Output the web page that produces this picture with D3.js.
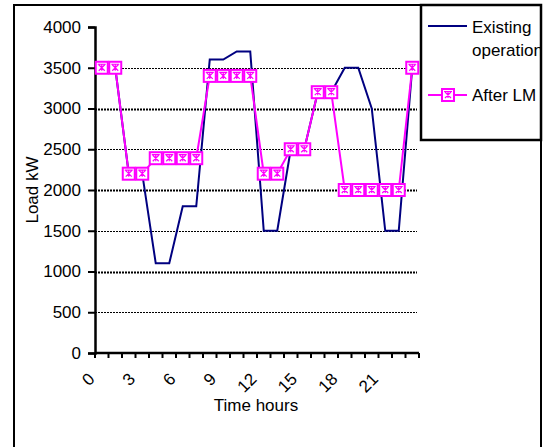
<!DOCTYPE html>
<html>
<head>
<meta charset="utf-8">
<script src="https://cdn.jsdelivr.net/npm/d3@7"></script>
<style>
  body { margin: 0; background: #fff; }
  text { font-family: "Liberation Sans", Arial, sans-serif; fill: #000; }
</style>
</head>
<body>
<script>
// chart size
var w = 543,
    h = 447,
    fs = 17;

// hours of the day (categories)
var hours = [0, 1, 2, 3, 4, 5, 6, 7, 8, 9, 10, 11, 12, 13, 14, 15, 16, 17, 18, 19, 20, 21, 22, 23];
var hourLabels = [0, 3, 6, 9, 12, 15, 18, 21];
var loadTicks = [0, 500, 1000, 1500, 2000, 2500, 3000, 3500, 4000];

// load kW
var existing = [3500, 3500, 2200, 2200, 1100, 1100, 1800, 1800, 3600, 3600, 3700, 3700,
                1500, 1500, 2500, 2500, 3200, 3200, 3500, 3500, 3000, 1500, 1500, 3500];
var afterLM  = [3500, 3500, 2200, 2200, 2390, 2390, 2390, 2390, 3400, 3400, 3400, 3400,
                2200, 2200, 2500, 2500, 3200, 3200, 2000, 2000, 2000, 2000, 2000, 3500];

var plot = { left: 95, right: 419, top: 27, bottom: 353 };

var svg = d3.select('body')
            .append('svg')
            .attr('width', w)
            .attr('height', h);

// outer chart border (bottom runs off the picture)
svg.append('rect')
   .attr('x', 14).attr('y', 5)
   .attr('width', 527).attr('height', 470)
   .attr('fill', '#fff')
   .attr('stroke', '#000')
   .attr('stroke-width', 2);

// scales
var xScale = d3.scaleBand()
               .domain(hours)
               .range([plot.left, plot.right]);

var yScale = d3.scaleLinear()
               .domain([0, 4000])
               .range([plot.bottom, plot.top]);

function xc(i) { return xScale(hours[i]) + xScale.bandwidth() / 2; }

// gridlines
svg.append('g')
   .selectAll('line')
   .data(loadTicks.filter(function(d) { return d > 0 && d < 4000; }))
   .enter()
   .append('line')
   .attr('x1', plot.left)
   .attr('x2', plot.right - 2)
   .attr('y1', function(d) { return Math.round(yScale(d)) + 0.5; })
   .attr('y2', function(d) { return Math.round(yScale(d)) + 0.5; })
   .attr('stroke', '#000')
   .attr('stroke-width', function(d) { return d % 1000 === 0 ? 2 : 1; })
   .attr('stroke-dasharray', '2,1');

// y axis
var yAxis = d3.axisLeft(yScale)
              .tickValues(loadTicks)
              .tickFormat(d3.format('d'))
              .tickSize(7)
              .tickPadding(7);

var gy = svg.append('g')
            .attr('transform', 'translate(' + plot.left + ',0)')
            .attr('font-size', fs)
            .attr('font-family', '"Liberation Sans", Arial, sans-serif')
            .call(yAxis);
gy.attr('font-size', fs).attr('font-family', '"Liberation Sans", Arial, sans-serif');
gy.select('.domain').attr('stroke-width', 2.5);
gy.selectAll('.tick line').attr('stroke-width', 2);

// x axis: ticks between categories, labels every third hour
var xTicks = svg.append('g');
xTicks.append('line')
      .attr('x1', plot.left).attr('x2', plot.right)
      .attr('y1', plot.bottom).attr('y2', plot.bottom)
      .attr('stroke', '#000').attr('stroke-width', 2.5);
xTicks.selectAll('.tk')
      .data(hours.concat([24]))
      .enter()
      .append('line')
      .attr('class', 'tk')
      .attr('x1', function(d) { return d < 24 ? xScale(d) : plot.right; })
      .attr('x2', function(d) { return d < 24 ? xScale(d) : plot.right; })
      .attr('y1', plot.bottom)
      .attr('y2', plot.bottom + 5)
      .attr('stroke', '#000')
      .attr('stroke-width', 2);

xTicks.selectAll('text')
      .data(hourLabels)
      .enter()
      .append('text')
      .attr('transform', function(d) {
        return 'translate(' + (xScale(d) + xScale.bandwidth() / 2 - 6) + ',' + (plot.bottom + 27) + ') rotate(-45)';
      })
      .attr('text-anchor', 'end')
      .attr('font-size', fs)
      .text(function(d) { return d; });

// axis titles
svg.append('text')
   .attr('x', 256)
   .attr('y', 411)
   .attr('text-anchor', 'middle')
   .attr('font-size', fs)
   .text('Time hours');

svg.append('text')
   .attr('transform', 'translate(38,190) rotate(-90)')
   .attr('text-anchor', 'middle')
   .attr('font-size', fs)
   .text('Load kW');

// lines
var line = d3.line()
             .x(function(d, i) { return xc(i); })
             .y(function(d) { return yScale(d); });

svg.append('path')
   .datum(existing)
   .attr('fill', 'none')
   .attr('stroke', '#000080')
   .attr('stroke-width', 2)
   .attr('d', line);

svg.append('path')
   .datum(afterLM)
   .attr('fill', 'none')
   .attr('stroke', '#ff00ff')
   .attr('stroke-width', 2)
   .attr('d', line);

// marker: square with a star inside
function marker(g) {
  g.append('rect')
   .attr('x', -6).attr('y', -6)
   .attr('width', 12).attr('height', 12)
   .attr('fill', '#fff')
   .attr('stroke', '#ff00ff')
   .attr('stroke-width', 2);
  g.append('path')
   .attr('d', 'M-3,-3L3,3M-3,3L3,-3M-4,-3.5L4,-3.5M0,-4L0,3')
   .attr('stroke', '#ff00ff')
   .attr('stroke-width', 1.2)
   .attr('fill', 'none');
}

svg.append('g')
   .selectAll('g')
   .data(afterLM)
   .enter()
   .append('g')
   .attr('transform', function(d, i) { return 'translate(' + xc(i) + ',' + yScale(d) + ')'; })
   .each(function() { marker(d3.select(this)); });

// legend
var legend = svg.append('g');
svg.append('clipPath').attr('id', 'legClip')
   .append('rect').attr('x', 421).attr('y', 5).attr('width', 119).attr('height', 135);

legend.append('rect')
      .attr('x', 421).attr('y', 5)
      .attr('width', 120).attr('height', 135)
      .attr('fill', '#fff')
      .attr('stroke', '#000')
      .attr('stroke-width', 2.5);

var legText = legend.append('g').attr('clip-path', 'url(#legClip)');

legText.append('line')
       .attr('x1', 428).attr('x2', 467)
       .attr('y1', 26).attr('y2', 26)
       .attr('stroke', '#000080').attr('stroke-width', 2);
var t1 = legText.append('text')
                .attr('x', 472).attr('y', 33)
                .attr('font-size', fs);
t1.append('tspan').attr('x', 472).text('Existing');
t1.append('tspan').attr('x', 472).attr('dy', 23).text('operation');

legText.append('line')
       .attr('x1', 428).attr('x2', 467)
       .attr('y1', 95).attr('y2', 95)
       .attr('stroke', '#ff00ff').attr('stroke-width', 2);
marker(legText.append('g').attr('transform', 'translate(448,95)'));
legText.append('text')
       .attr('x', 472).attr('y', 101)
       .attr('font-size', fs)
       .text('After LM');
</script>
</body>
</html>
